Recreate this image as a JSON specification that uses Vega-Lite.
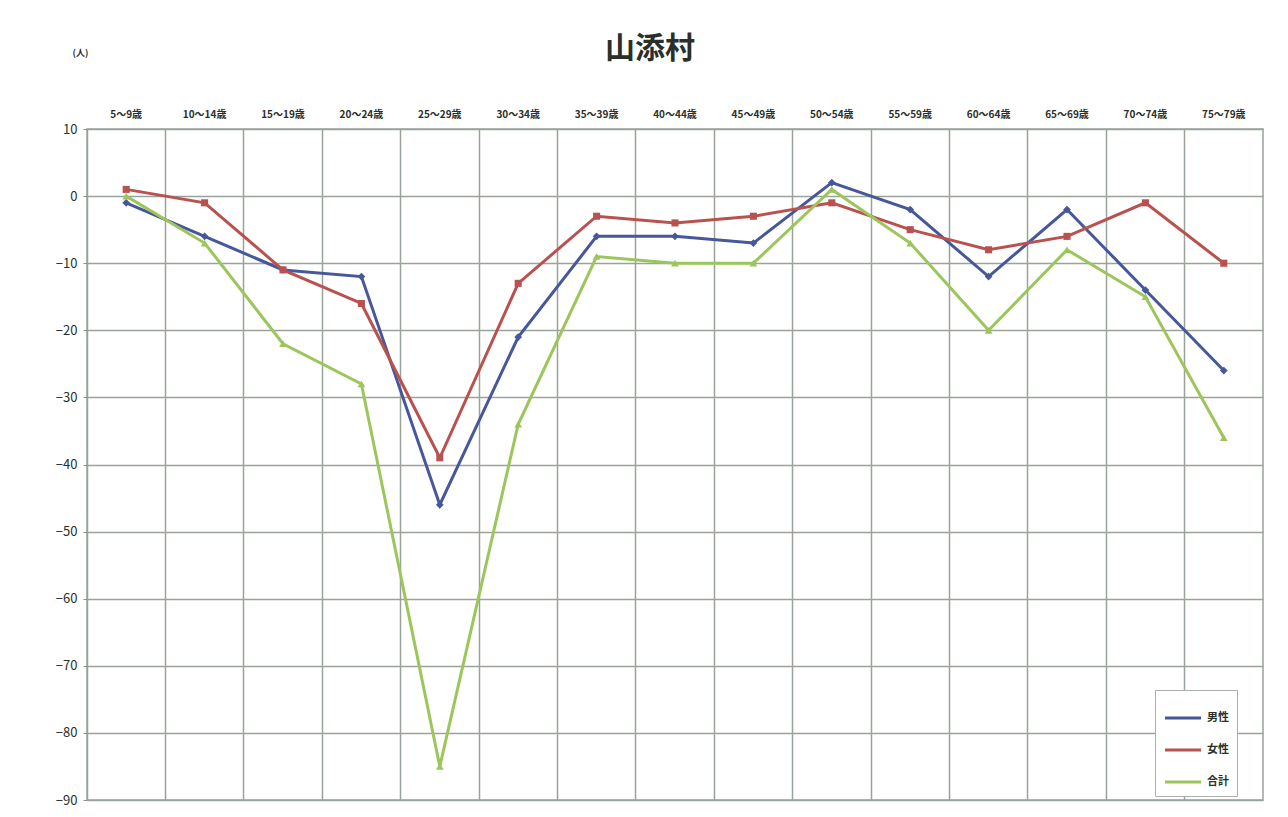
{
  "$schema": "https://vega.github.io/schema/vega-lite/v6.json",
  "width": 1176,
  "height": 671,
  "autosize": {"type": "none"},
  "padding": {"left": 87, "top": 129, "right": 25, "bottom": 17},
  "background": "white",
  "title": {"text": "山添村", "fontSize": 30, "fontWeight": "bold", "color": "#2a2f2a", "dx": -25, "offset": -16, "font": "Noto Sans CJK JP"},
  "config": {
    "font": "Noto Sans CJK JP",
    "view": {"stroke": "#9aa39a", "strokeWidth": 1.5}
  },
  "data": {"values": [
    {"age": "5～9歳", "series": "男性", "value": -1},
    {"age": "10～14歳", "series": "男性", "value": -6},
    {"age": "15～19歳", "series": "男性", "value": -11},
    {"age": "20～24歳", "series": "男性", "value": -12},
    {"age": "25～29歳", "series": "男性", "value": -46},
    {"age": "30～34歳", "series": "男性", "value": -21},
    {"age": "35～39歳", "series": "男性", "value": -6},
    {"age": "40～44歳", "series": "男性", "value": -6},
    {"age": "45～49歳", "series": "男性", "value": -7},
    {"age": "50～54歳", "series": "男性", "value": 2},
    {"age": "55～59歳", "series": "男性", "value": -2},
    {"age": "60～64歳", "series": "男性", "value": -12},
    {"age": "65～69歳", "series": "男性", "value": -2},
    {"age": "70～74歳", "series": "男性", "value": -14},
    {"age": "75～79歳", "series": "男性", "value": -26},
    {"age": "5～9歳", "series": "女性", "value": 1},
    {"age": "10～14歳", "series": "女性", "value": -1},
    {"age": "15～19歳", "series": "女性", "value": -11},
    {"age": "20～24歳", "series": "女性", "value": -16},
    {"age": "25～29歳", "series": "女性", "value": -39},
    {"age": "30～34歳", "series": "女性", "value": -13},
    {"age": "35～39歳", "series": "女性", "value": -3},
    {"age": "40～44歳", "series": "女性", "value": -4},
    {"age": "45～49歳", "series": "女性", "value": -3},
    {"age": "50～54歳", "series": "女性", "value": -1},
    {"age": "55～59歳", "series": "女性", "value": -5},
    {"age": "60～64歳", "series": "女性", "value": -8},
    {"age": "65～69歳", "series": "女性", "value": -6},
    {"age": "70～74歳", "series": "女性", "value": -1},
    {"age": "75～79歳", "series": "女性", "value": -10},
    {"age": "5～9歳", "series": "合計", "value": 0},
    {"age": "10～14歳", "series": "合計", "value": -7},
    {"age": "15～19歳", "series": "合計", "value": -22},
    {"age": "20～24歳", "series": "合計", "value": -28},
    {"age": "25～29歳", "series": "合計", "value": -85},
    {"age": "30～34歳", "series": "合計", "value": -34},
    {"age": "35～39歳", "series": "合計", "value": -9},
    {"age": "40～44歳", "series": "合計", "value": -10},
    {"age": "45～49歳", "series": "合計", "value": -10},
    {"age": "50～54歳", "series": "合計", "value": 1},
    {"age": "55～59歳", "series": "合計", "value": -7},
    {"age": "60～64歳", "series": "合計", "value": -20},
    {"age": "65～69歳", "series": "合計", "value": -8},
    {"age": "70～74歳", "series": "合計", "value": -15},
    {"age": "75～79歳", "series": "合計", "value": -36}
  ]},
  "resolve": {"axis": {"x": "independent"}},
  "layer": [
    {
      "mark": {"type": "line", "strokeWidth": 3},
      "encoding": {
        "x": {"field": "age", "type": "nominal", "sort": null,
          "scale": {"type": "band", "paddingInner": 0, "paddingOuter": 0},
          "axis": {"orient": "top", "title": null, "labelAngle": 0, "labelFontSize": 10, "labelFontWeight": "bold", "labelColor": "#2a2f2a", "labelPadding": 10, "ticks": false, "domain": false, "grid": false}},
        "y": {"field": "value", "type": "quantitative",
          "scale": {"domain": [-90, 10], "nice": false, "zero": false},
          "axis": {"values": [-90, -80, -70, -60, -50, -40, -30, -20, -10, 0, 10], "title": "(人)", "titleAngle": 0, "titleX": -7, "titleY": -72, "titleAlign": "center", "titleFontSize": 9, "titleFontWeight": "bold", "titleColor": "#2a2f2a", "labelFontSize": 13, "labelColor": "#2a2f2a", "labelPadding": 6, "tickSize": 4, "tickColor": "#8a938a", "domain": false, "grid": true, "gridColor": "#9aa39a", "gridWidth": 1.5}},
        "color": {"field": "series", "type": "nominal",
          "scale": {"domain": ["男性", "女性", "合計"], "range": ["#46579a", "#b9524f", "#9cc65c"]},
          "legend": {"title": null, "orient": "none", "legendX": 1068, "legendY": 561, "symbolType": "stroke", "symbolStrokeWidth": 3, "symbolSize": 1300, "labelFontSize": 11, "labelFontWeight": "bold", "labelColor": "#2a2f2a", "rowPadding": 6, "strokeColor": "#aab0aa", "fillColor": "white", "padding": 8}}
      }
    },
    {
      "transform": [{"filter": "datum.series === '男性'"}],
      "mark": {"type": "point", "filled": true, "size": 60, "opacity": 1, "shape": "diamond"},
      "encoding": {
        "x": {"field": "age", "type": "nominal", "sort": null,
          "scale": {"type": "band", "paddingInner": 0, "paddingOuter": 0},
          "axis": {"orient": "bottom", "bandPosition": 0, "title": null, "labels": false, "ticks": false, "domain": false, "grid": true, "gridColor": "#9aa39a", "gridWidth": 1.5}},
        "y": {"field": "value", "type": "quantitative"},
        "color": {"field": "series", "type": "nominal"}
      }
    },
    {
      "transform": [{"filter": "datum.series === '女性'"}],
      "mark": {"type": "point", "filled": true, "size": 50, "opacity": 1, "shape": "square"},
      "encoding": {
        "x": {"field": "age", "type": "nominal", "sort": null, "axis": null},
        "y": {"field": "value", "type": "quantitative"},
        "color": {"field": "series", "type": "nominal"}
      }
    },
    {
      "transform": [{"filter": "datum.series === '合計'"}],
      "mark": {"type": "point", "filled": true, "size": 60, "opacity": 1, "shape": "triangle-up"},
      "encoding": {
        "x": {"field": "age", "type": "nominal", "sort": null, "axis": null},
        "y": {"field": "value", "type": "quantitative"},
        "color": {"field": "series", "type": "nominal"}
      }
    }
  ]
}
